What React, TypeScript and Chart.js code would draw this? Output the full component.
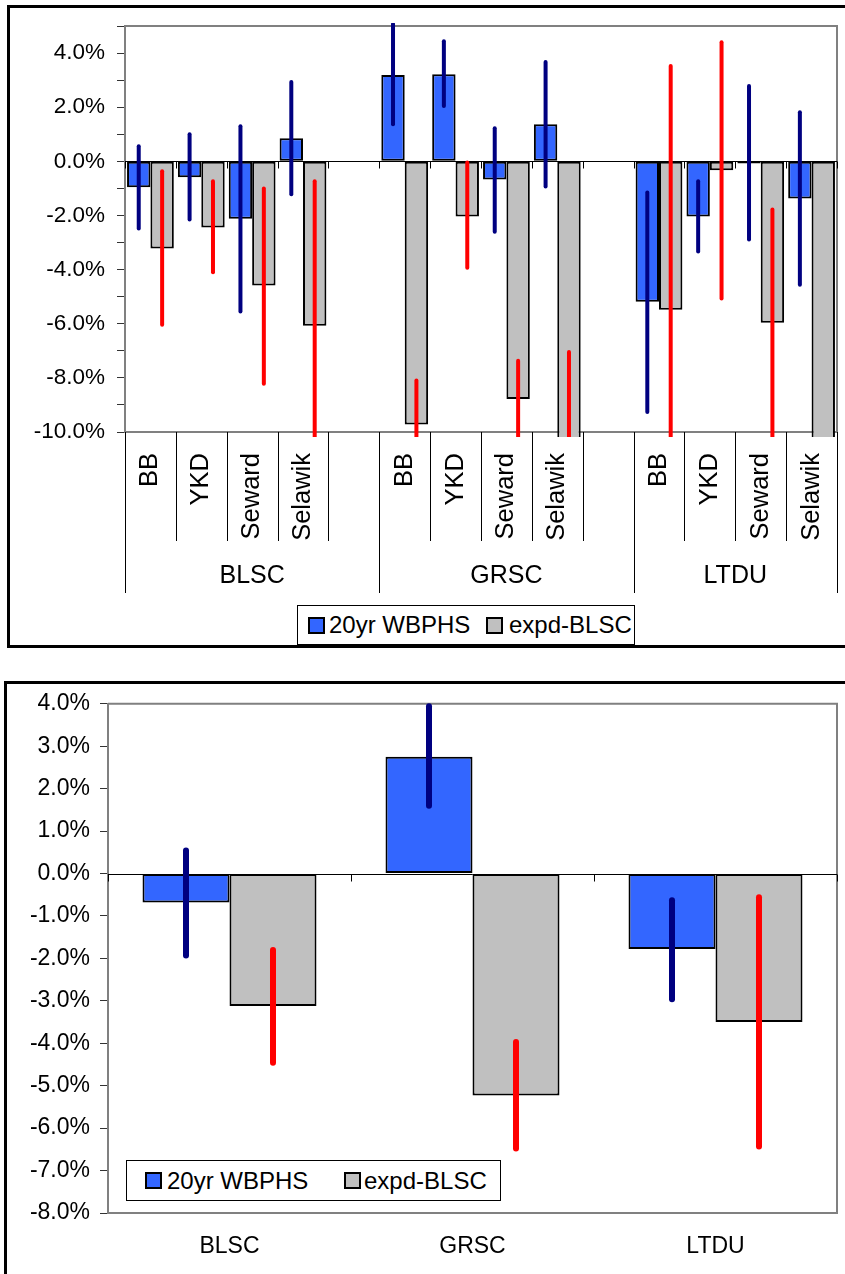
import React, { useEffect, useRef } from 'react';
import { Chart, registerables } from 'chart.js';

Chart.register(...registerables);

const FONT = '"Liberation Sans", Arial, Helvetica, sans-serif';

// ---------- shared ----------
const SERIES = ['20yr WBPHS', 'expd-BLSC'];
const BAR_COLORS = ['#3366FF', '#C0C0C0'];
const ERR_COLORS = ['#000080', '#FF0000'];

// ---------- top chart data ----------
const SITES = ['BB', 'YKD', 'Seward', 'Selawik', '', 'BB', 'YKD', 'Seward', 'Selawik', '', 'BB', 'YKD', 'Seward', 'Selawik'];
const GROUPS = ['BLSC', 'GRSC', 'LTDU'];
const GROUP_SIZES = [5, 5, 4];

const TOP_WBPHS = [-0.96, -0.59, -2.12, 0.85, null, 3.19, 3.22, -0.67, 1.37, null, -5.19, -2.04, -0.08, -1.37];
const TOP_WBPHS_LO = [-2.48, -2.15, -5.55, -1.22, null, 1.37, 2.04, -2.6, -0.93, null, -9.26, -3.33, -2.89, -4.56];
const TOP_WBPHS_HI = [0.56, 1.0, 1.3, 2.93, null, 5.07, 4.44, 1.22, 3.67, null, -1.15, -0.74, 2.78, 1.81];

const TOP_EXPD = [-3.22, -2.44, -4.59, -6.07, null, -9.72, -2.04, -8.78, -12, null, -5.48, -0.33, -5.96, -12];
const TOP_EXPD_LO = [-6.04, -4.1, -8.22, -11, null, -11, -3.93, -11, -11, null, -11, -5.07, -11, -14];
const TOP_EXPD_HI = [-0.37, -0.74, -1.0, -0.74, null, -8.1, -0.04, -7.37, -7.04, null, 3.52, 4.4, -1.78, -12];

const TOP_Y_MIN = -10;
const TOP_Y_MAX = 5;

// ---------- bottom chart data ----------
const SPECIES = ['BLSC', 'GRSC', 'LTDU'];
const BOT_WBPHS = [-0.68, 2.75, -1.78];
const BOT_WBPHS_LO = [-1.93, 1.6, -2.96];
const BOT_WBPHS_HI = [0.54, 3.94, -0.63];
const BOT_EXPD = [-3.12, -5.23, -3.5];
const BOT_EXPD_LO = [-4.46, -6.48, -6.43];
const BOT_EXPD_HI = [-1.8, -3.97, -0.56];

const BOT_Y_MIN = -8;
const BOT_Y_MAX = 4;

// ---------- plugins ----------
function framePlugin(tickLen: number) {
  return {
    id: 'plotFrame',
    beforeDatasetsDraw(chart: any) {
      const { ctx, chartArea: a, scales } = chart;
      ctx.save();
      ctx.strokeStyle = '#808080';
      ctx.lineWidth = 2;
      ctx.beginPath();
      ctx.moveTo(a.left, a.top);
      ctx.lineTo(a.right, a.top);
      ctx.lineTo(a.right, a.bottom);
      ctx.stroke();
      const y0 = Math.round(scales.y.getPixelForValue(0)) + 0.5;
      ctx.strokeStyle = '#000';
      ctx.lineWidth = 1;
      ctx.beginPath();
      ctx.moveTo(a.left, y0);
      ctx.lineTo(a.right, y0);
      const n = scales.x.getLabels().length;
      for (let i = 0; i <= n; i++) {
        const x = Math.round(scales.x.getPixelForValue(i - 0.5)) + 0.5;
        ctx.moveTo(x, y0);
        ctx.lineTo(x, y0 + tickLen);
      }
      ctx.stroke();
      ctx.restore();
    },
  };
}

const dividerPlugin = {
  id: 'groupDividers',
  afterDraw(chart: any) {
    const { ctx, chartArea: a, scales } = chart;
    const n = scales.x.getLabels().length;
    const bounds = new Set<number>();
    let acc = 0;
    bounds.add(0);
    GROUP_SIZES.forEach((s) => {
      acc += s;
      bounds.add(acc);
    });
    ctx.save();
    ctx.strokeStyle = '#000';
    ctx.lineWidth = 1;
    ctx.beginPath();
    for (let i = 0; i <= n; i++) {
      const x = Math.round(scales.x.getPixelForValue(i - 0.5)) + 0.5;
      const end = bounds.has(i) ? scales.xg.bottom : scales.x.bottom;
      ctx.moveTo(x, a.bottom);
      ctx.lineTo(x, end);
    }
    ctx.stroke();
    ctx.restore();
  },
};

function errorBarPlugin(series: { lo: (number | null)[]; hi: (number | null)[]; color: string }[], width: number) {
  return {
    id: 'errorBars',
    afterDatasetsDraw(chart: any) {
      const { ctx, chartArea: a, scales } = chart;
      const y = scales.y;
      ctx.save();
      ctx.beginPath();
      ctx.rect(a.left, a.top - 3, a.right - a.left, a.bottom - a.top + 8);
      ctx.clip();
      ctx.lineCap = 'round';
      ctx.lineWidth = width;
      series.forEach((s, d) => {
        const meta = chart.getDatasetMeta(d);
        ctx.strokeStyle = s.color;
        meta.data.forEach((el: any, i: number) => {
          const lo = s.lo[i];
          const hi = s.hi[i];
          if (lo == null || hi == null) return;
          ctx.beginPath();
          ctx.moveTo(el.x, y.getPixelForValue(lo));
          ctx.lineTo(el.x, y.getPixelForValue(hi));
          ctx.stroke();
        });
      });
      ctx.restore();
    },
  };
}

function groupCenters(): number[] {
  const out: number[] = [];
  let start = 0;
  GROUP_SIZES.forEach((s) => {
    out.push(start + (s - 1) / 2);
    start += s;
  });
  return out;
}

function barDataset(i: number, data: (number | null)[], catPct: number) {
  return {
    label: SERIES[i],
    data,
    backgroundColor: BAR_COLORS[i],
    borderColor: '#000',
    borderWidth: 2,
    borderSkipped: false,
    categoryPercentage: catPct,
    barPercentage: 1,
    clip: { left: 0, top: 0, right: 0, bottom: 5 },
  };
}

function Legend({ left, top, width, height, sq, t1, sq2, t2 }: any) {
  const square = (x: number, color: string) => (
    <div
      style={{
        position: 'absolute',
        left: x,
        top: (height - 2 - 17) / 2,
        width: 17,
        height: 17,
        boxSizing: 'border-box',
        border: '2px solid #000',
        background: color,
      }}
    />
  );
  const text = (x: number, label: string) => (
    <div
      style={{
        position: 'absolute',
        left: x,
        top: 0,
        height: height - 2,
        display: 'flex',
        alignItems: 'center',
        fontSize: 24,
        lineHeight: 1,
        whiteSpace: 'nowrap',
        color: '#000',
      }}
    >
      {label}
    </div>
  );
  return (
    <div
      style={{
        position: 'absolute',
        left,
        top,
        width,
        height,
        boxSizing: 'border-box',
        border: '1px solid #000',
        background: '#fff',
      }}
    >
      {square(sq, BAR_COLORS[0])}
      {text(t1, SERIES[0])}
      {square(sq2, BAR_COLORS[1])}
      {text(t2, SERIES[1])}
    </div>
  );
}

export default function App() {
  const topRef = useRef<HTMLCanvasElement>(null);
  const botRef = useRef<HTMLCanvasElement>(null);

  useEffect(() => {
    Chart.defaults.font.family = FONT;
    Chart.defaults.color = '#000';

    const centers = groupCenters();

    const top = new Chart(topRef.current as HTMLCanvasElement, {
      type: 'bar',
      data: {
        labels: SITES,
        datasets: [barDataset(0, TOP_WBPHS, 0.92), barDataset(1, TOP_EXPD, 0.92)] as any,
      },
      options: {
        animation: false,
        responsive: false,
        devicePixelRatio: 1,
        layout: { padding: { left: 10, top: 26, right: 8, bottom: 57 } },
        plugins: { legend: { display: false }, tooltip: { enabled: false } },
        scales: {
          y: {
            min: TOP_Y_MIN,
            max: TOP_Y_MAX,
            afterFit: (s: any) => {
              s.width = 115;
            },
            ticks: {
              stepSize: 1,
              autoSkip: false,
              padding: 12,
              color: '#000',
              font: { size: 22.5 },
              callback: (v: any) => (Number(v) % 2 === 0 ? Number(v).toFixed(1) + '%' : ''),
            },
            grid: { drawOnChartArea: false, drawTicks: true, tickLength: 8, color: '#333', lineWidth: 1 },
            border: { color: '#808080', width: 2 },
          },
          x: {
            type: 'category',
            weight: 0,
            offset: true,
            afterFit: (s: any) => {
              s.height = 109;
              s.paddingLeft = 0;
              s.paddingRight = 0;
            },
            ticks: { autoSkip: false, minRotation: 90, maxRotation: 90, padding: 21, font: { size: 25.5 }, color: '#000' },
            grid: { drawOnChartArea: false, drawTicks: false },
            border: { color: '#808080', width: 2 },
          },
          xg: {
            type: 'linear',
            position: 'bottom',
            weight: 1,
            offset: false,
            min: -0.5,
            max: SITES.length - 0.5,
            afterBuildTicks: (s: any) => {
              s.ticks = centers.map((v) => ({ value: v }));
            },
            afterFit: (s: any) => {
              s.height = 52;
              s.paddingLeft = 0;
              s.paddingRight = 0;
            },
            ticks: {
              autoSkip: false,
              maxRotation: 0,
              padding: 20,
              font: { size: 25 },
              color: '#000',
              callback: (_v: any, i: number) => GROUPS[i],
            },
            grid: { offset: false, drawOnChartArea: false, drawTicks: false },
            border: { display: false },
          },
        } as any,
      },
      plugins: [
        framePlugin(7),
        dividerPlugin,
        errorBarPlugin(
          [
            { lo: TOP_WBPHS_LO, hi: TOP_WBPHS_HI, color: ERR_COLORS[0] },
            { lo: TOP_EXPD_LO, hi: TOP_EXPD_HI, color: ERR_COLORS[1] },
          ],
          4
        ),
      ] as any,
    });

    const bot = new Chart(botRef.current as HTMLCanvasElement, {
      type: 'bar',
      data: {
        labels: SPECIES,
        datasets: [barDataset(0, BOT_WBPHS, 0.716), barDataset(1, BOT_EXPD, 0.716)] as any,
      },
      options: {
        animation: false,
        responsive: false,
        devicePixelRatio: 1,
        layout: { padding: { left: 10, top: 22, right: 8, bottom: 0 } },
        plugins: { legend: { display: false }, tooltip: { enabled: false } },
        scales: {
          y: {
            min: BOT_Y_MIN,
            max: BOT_Y_MAX,
            afterFit: (s: any) => {
              s.width = 98;
            },
            ticks: {
              stepSize: 1,
              autoSkip: false,
              padding: 10,
              color: '#000',
              font: { size: 23 },
              callback: (v: any) => Number(v).toFixed(1) + '%',
            },
            grid: { drawOnChartArea: false, drawTicks: true, tickLength: 8, color: '#333', lineWidth: 1 },
            border: { color: '#808080', width: 2 },
          },
          x: {
            type: 'category',
            offset: true,
            afterFit: (s: any) => {
              s.height = 61;
            },
            ticks: { autoSkip: false, maxRotation: 0, padding: 20, font: { size: 23 }, color: '#000' },
            grid: { drawOnChartArea: false, drawTicks: false },
            border: { color: '#808080', width: 2 },
          },
        } as any,
      },
      plugins: [
        framePlugin(7),
        errorBarPlugin(
          [
            { lo: BOT_WBPHS_LO, hi: BOT_WBPHS_HI, color: ERR_COLORS[0] },
            { lo: BOT_EXPD_LO, hi: BOT_EXPD_HI, color: ERR_COLORS[1] },
          ],
          6
        ),
      ] as any,
    });

    return () => {
      top.destroy();
      bot.destroy();
    };
  }, []);

  return (
    <div
      style={{
        position: 'absolute',
        left: 0,
        top: 0,
        width: 845,
        height: 1274,
        overflow: 'hidden',
        background: '#fff',
        fontFamily: FONT,
      }}
    >
      <div
        style={{
          position: 'absolute',
          left: 7,
          top: 5,
          width: 900,
          height: 643,
          boxSizing: 'border-box',
          border: '3px solid #000',
        }}
      />
      <canvas
        ref={topRef}
        width={845}
        height={650}
        style={{ position: 'absolute', left: 0, top: 0, width: 845, height: 650 }}
      />
      <Legend left={297} top={605} width={338} height={40} sq={10} t1={31} sq2={188} t2={211} />

      <div
        style={{
          position: 'absolute',
          left: 4,
          top: 681,
          width: 900,
          height: 700,
          boxSizing: 'border-box',
          border: '3px solid #000',
        }}
      />
      <canvas
        ref={botRef}
        width={845}
        height={594}
        style={{ position: 'absolute', left: 0, top: 680, width: 845, height: 594 }}
      />
      <Legend left={126} top={1160} width={375} height={41} sq={18} t1={40} sq2={217} t2={237} />
    </div>
  );
}
